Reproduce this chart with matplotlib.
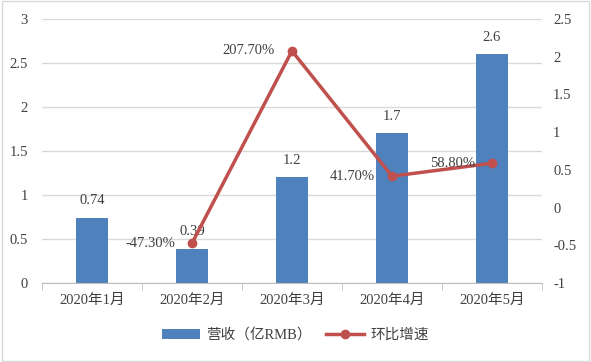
import matplotlib.pyplot as plt
import numpy as np

plt.rcParams['font.family'] = ['Liberation Serif', 'Noto Sans CJK SC']

months = ['2020年1月', '2020年2月', '2020年3月', '2020年4月', '2020年5月']
revenue = [0.74, 0.39, 1.2, 1.7, 2.6]
growth = [None, -0.473, 2.077, 0.417, 0.588]
growth_labels = ['', '-47.30%', '207.70%', '41.70%', '58.80%']

bar_color = '#4F81BD'
line_color = '#C0504D'
text_color = '#404040'

fig = plt.figure(figsize=(5.91, 3.62), dpi=100)
ax = fig.add_axes([0.071, 0.218, 0.846, 0.7295])
x = np.arange(len(months))

ax.bar(x, revenue, width=0.32, color=bar_color, label='营收（亿RMB）', zorder=2)
ax.set_ylim(0, 3)
ax.set_xlim(-0.5, len(months) - 0.5)
ax.set_yticks(np.arange(0, 3.01, 0.5))
ax.set_yticklabels(['0', '0.5', '1', '1.5', '2', '2.5', '3'])
ax.grid(axis='y', color='#D9D9D9', linewidth=1, zorder=0)
ax.set_axisbelow(True)
ax.set_xticks(x)
ax.set_xticklabels(months)
ax.set_xticks(np.arange(-0.5, len(months), 1), minor=True)
ax.tick_params(axis='x', which='major', length=0, pad=8, labelsize=10.5, colors=text_color)
ax.tick_params(axis='x', which='minor', length=5, color='#BFBFBF')
ax.tick_params(axis='y', length=0, labelsize=10.5, colors=text_color, pad=10)
for s in ['top', 'left', 'right']:
    ax.spines[s].set_visible(False)
ax.spines['bottom'].set_color('#BFBFBF')

for xi, v in zip(x, revenue):
    ax.text(xi, v + 0.12, f'{v:g}', ha='center', va='bottom', fontsize=10.5, color=text_color)

ax2 = ax.twinx()
gx = [xi for xi, g in zip(x, growth) if g is not None]
gy = [g for g in growth if g is not None]
ax2.plot(gx, gy, color=line_color, linewidth=2.5, marker='o', markersize=6,
         label='环比增速', zorder=3)
ax2.set_ylim(-1, 2.5)
ax2.set_yticks(np.arange(-1, 2.51, 0.5))
ax2.set_yticklabels(['-1', '-0.5', '0', '0.5', '1', '1.5', '2', '2.5'])
ax2.tick_params(axis='y', length=0, labelsize=10.5, colors=text_color, pad=8)
for s in ax2.spines.values():
    s.set_visible(False)

for xi, g, lab in zip(x, growth, growth_labels):
    if g is None:
        continue
    ax2.text(xi - 0.17, g, lab, ha='right', va='center', fontsize=10.5, color=text_color)

h1, l1 = ax.get_legend_handles_labels()
h2, l2 = ax2.get_legend_handles_labels()
fig.legend(h1 + h2, l1 + l2, loc='center', bbox_to_anchor=(0.5, 0.075), ncol=2,
           frameon=False, fontsize=10.5, handlelength=2.6, handletextpad=0.4,
           columnspacing=1.0, labelcolor=text_color)

fig.patches.append(plt.Rectangle((0.003, 0.004), 0.994, 0.992, transform=fig.transFigure,
                                 fill=False, edgecolor='#D9D9D9', linewidth=1))

fig.savefig('out.png', dpi=100)
